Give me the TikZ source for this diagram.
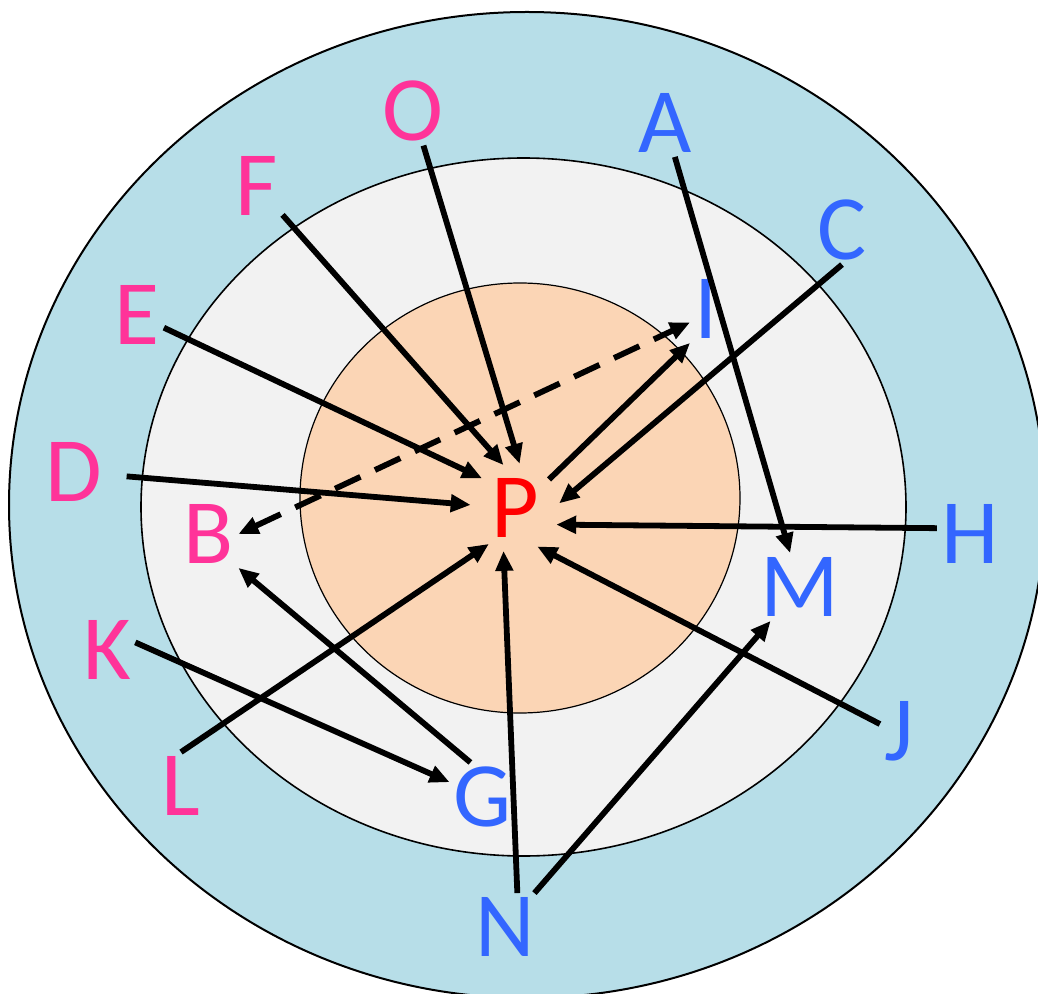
\documentclass[tikz,border=0pt]{standalone}
\usepackage{fontspec}
\newfontfamily\labelfont{Carlito}
\usetikzlibrary{arrows.meta}

\definecolor{ringout}{HTML}{B7DEE8}
\definecolor{ringmid}{HTML}{F2F2F2}
\definecolor{ringin}{HTML}{FBD5B5}
\definecolor{pinklbl}{HTML}{FF3399}
\definecolor{bluelbl}{HTML}{3366FF}

\begin{document}
\begin{tikzpicture}[x=0.5pt, y=-0.5pt,
    lbl/.style={font=\labelfont\fontsize{46}{50}\selectfont, inner sep=2pt},
    pinklabel/.style={lbl, text=pinklbl},
    bluelabel/.style={lbl, text=bluelbl},
    link/.style={line width=2.9pt, -{Triangle[length=10pt, width=8.5pt]}},
    ]

    \useasboundingbox (0,0) rectangle (1038,994);

    % rings
    \begin{scope}
        \clip (0,0) rectangle (1038,994);
        \draw[fill=ringout, line width=1pt] (527,505) ellipse [x radius=259pt, y radius=246.5pt];
    \end{scope}
    \draw[fill=ringmid, line width=0.8pt] (523.5,507) ellipse [x radius=191.25pt, y radius=174.5pt];
    \draw[fill=ringin, line width=0.6pt] (520,498) ellipse [x radius=110pt, y radius=107.5pt];

    % labels
    \node[pinklabel] (O) at (413,111) {O};
    \node[pinklabel] (F) at (257,186) {F};
    \node[pinklabel] (E) at (137,315) {E};
    \node[pinklabel] (D) at (74,472) {D};
    \node[pinklabel] (B) at (209,534) {B};
    \node[pinklabel] (K) at (107,650) {K};
    \node[pinklabel] (L) at (181,786) {L};
    \node[bluelabel] (A) at (665,123) {A};
    \node[bluelabel] (C) at (842,230) {C};
    \node[bluelabel] (I) at (706,309) {I};
    \node[bluelabel] (H) at (970,534) {H};
    \node[bluelabel] (M) at (800,587) {M};
    \node[bluelabel] (J) at (899,731) {J};
    \node[bluelabel] (G) at (483,797) {G};
    \node[bluelabel] (N) at (505,927) {N};
    \node[lbl, text=red, circle, minimum size=44pt, inner sep=0pt] (P) at (515,508) {P};

    % arrows
    \draw[link] (O) -- (P.84);
    \draw[link] (F) -- (P.105);
    \draw[link] (E) -- (P.138);
    \draw[link, shorten <=10pt] (D) -- (P.176);
    \draw[link] (L.north) -- (P.234);
    \draw[link] (N.70) -- (P.255);
    \draw[link] (J.160) -- (P.300);
    \draw[link] (H.170) -- (P.338);
    \draw[link] (C.south) -- (P.6);
    \draw[link] (P.40) -- (I.south west);
    \draw[link] (A) -- (M);
    \draw[link] (N) -- (M);
    \draw[link] (G.110) -- (B.south east);
    \draw[link] (K.15) -- (G);
    \draw[link, {Triangle[length=10pt, width=8.5pt]}-{Triangle[length=10pt, width=8.5pt]}, dash pattern=on 14pt off 8pt] (B.east) -- (I.220);

\end{tikzpicture}
\end{document}
